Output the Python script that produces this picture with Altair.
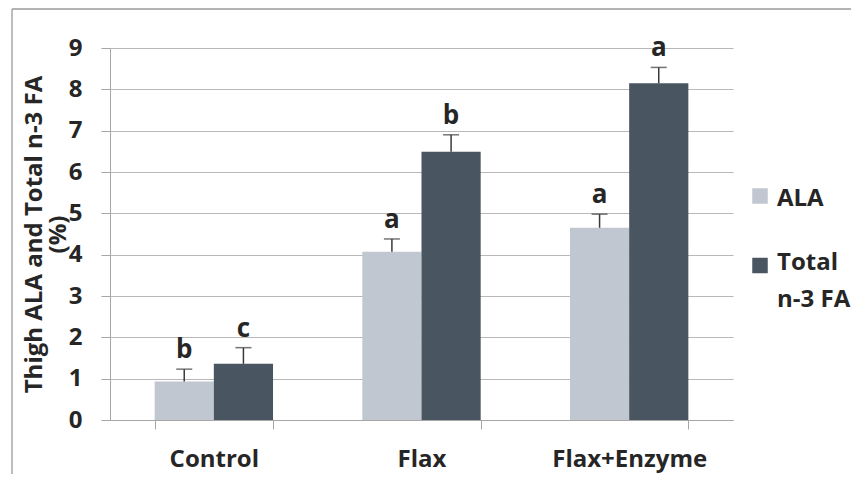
import altair as alt
import pandas as pd

groups = ["Control", "Flax", "Flax+Enzyme"]
series = ["ALA", "Total n-3 FA"]
ala_mean = [0.93, 4.07, 4.65]
ala_err = [0.30, 0.31, 0.33]
total_mean = [1.36, 6.49, 8.15]
total_err = [0.39, 0.41, 0.38]
ala_letters = ["b", "a", "a"]
total_letters = ["c", "b", "a"]
y_ticks = [0, 1, 2, 3, 4, 5, 6, 7, 8, 9]
colors = ["#c0c7d0", "#4a5562"]

rows = []
for i, g in enumerate(groups):
    rows.append({"group": g, "series": series[0], "mean": ala_mean[i],
                 "top": ala_mean[i] + ala_err[i], "letter": ala_letters[i]})
    rows.append({"group": g, "series": series[1], "mean": total_mean[i],
                 "top": total_mean[i] + total_err[i], "letter": total_letters[i]})
df = pd.DataFrame(rows)

FONT = "Open Sans"
TXT = "#262626"
GRAY = "#a6a6a6"

x = alt.X("group:N", sort=groups,
          scale=alt.Scale(paddingInner=0.43, paddingOuter=0.215),
          axis=alt.Axis(title=None, labelAngle=0, tickBand="extent", grid=False,
                        domainColor=GRAY, tickColor=GRAY, tickSize=9,
                        labelFont=FONT, labelFontSize=24, labelFontWeight="bold",
                        labelColor=TXT, labelPadding=18))
xo = alt.XOffset("series:N", sort=series, scale=alt.Scale(paddingInner=0, paddingOuter=0))
yscale = alt.Scale(domain=[0, 9], nice=False)

base = alt.Chart(df)

bars = base.mark_bar().encode(
    x=x, xOffset=xo,
    y=alt.Y("mean:Q", scale=yscale,
            axis=alt.Axis(values=y_ticks, grid=True, gridColor="#b8b8b8", gridWidth=1.2,
                          domainColor=GRAY, tickColor=GRAY, tickSize=9,
                          labelFont=FONT, labelFontSize=24, labelFontWeight="bold",
                          labelColor=TXT, labelPadding=19,
                          title=["Thigh ALA and Total n-3 FA", "(%)"],
                          titleFont=FONT, titleFontSize=24, titleFontWeight="bold",
                          titleColor=TXT, titleLineHeight=24, titleBaseline="middle",
                          titleX=-76, titleY=186, titleAnchor="middle")),
    color=alt.Color("series:N", scale=alt.Scale(domain=series, range=colors), legend=None),
)

rules = base.mark_rule(color="#3a3a3a", strokeWidth=1.5).encode(
    x=x, xOffset=xo, y=alt.Y("mean:Q", scale=yscale), y2="top:Q")
caps = base.mark_tick(orient="horizontal", size=16, thickness=1.5, color="#3a3a3a").encode(
    x=x, xOffset=xo, y=alt.Y("top:Q", scale=yscale))
letters = base.mark_text(baseline="bottom", dy=-6, font=FONT, fontSize=26,
                         fontWeight="bold", color=TXT).encode(
    x=x, xOffset=xo, y=alt.Y("top:Q", scale=yscale), text="letter:N")

one = pd.DataFrame({"k": [0]})
frame_left = alt.Chart(one).mark_rule(color="#9a9a9a", strokeWidth=1.3).encode(
    x=alt.value(-98), y=alt.value(-39), y2=alt.value(470))
frame_top = alt.Chart(one).mark_rule(color="#9a9a9a", strokeWidth=1.3).encode(
    y=alt.value(-39), x=alt.value(-98), x2=alt.value(780))

leg1_sq = alt.Chart(one).mark_square(size=240, opacity=1, color=colors[0]).encode(
    x=alt.value(650), y=alt.value(148))
leg1_tx = alt.Chart(one).mark_text(align="left", baseline="middle", font=FONT, fontSize=24,
                                   fontWeight="bold", color=TXT).encode(
    x=alt.value(667), y=alt.value(151), text=alt.value(series[0]))
leg2_sq = alt.Chart(one).mark_square(size=240, opacity=1, color=colors[1]).encode(
    x=alt.value(650), y=alt.value(217.5))
leg2_tx = alt.Chart(one).mark_text(align="left", baseline="alphabetic", font=FONT, fontSize=24,
                                   fontWeight="bold", color=TXT, lineHeight=37).encode(
    x=alt.value(667), y=alt.value(222), text=alt.value(["Total", "n-3 FA"]))

chart = alt.layer(bars, rules, caps, letters, frame_left, frame_top,
                  leg1_sq, leg1_tx, leg2_sq, leg2_tx).properties(
    width=623, height=372,
    autosize=alt.AutoSizeParams(type="none"),
    padding={"left": 102, "top": 40, "right": 118, "bottom": 54},
).configure_view(stroke=None)

chart.save("out.html", embed_options={"renderer": "svg", "actions": False})
